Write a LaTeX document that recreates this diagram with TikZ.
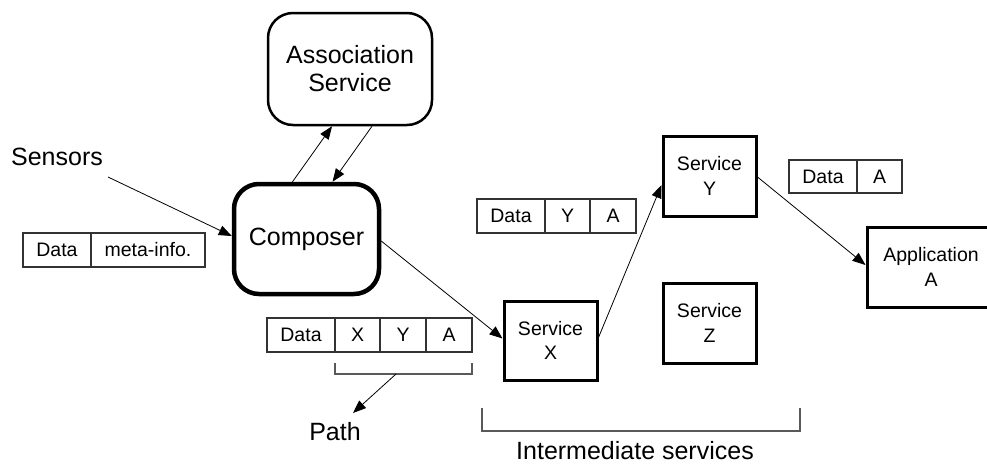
\documentclass[tikz,border=0pt]{standalone}
\usepackage{fontspec}
\setmainfont{Liberation Sans}
\usetikzlibrary{arrows.meta,calc}
\tikzset{
  big/.style={font=\fontsize{25}{28}\selectfont, align=center},
  small/.style={font=\fontsize{19.5}{24.5}\selectfont, align=center},
  roundbox/.style={draw, rounded corners=25pt, inner sep=0pt, big},
  svcbox/.style={draw, line width=3pt, inner sep=0pt, minimum width=93pt, minimum height=80pt, small},
  cell/.style={draw=black!80, line width=1.1pt, inner sep=0pt, small, anchor=center},
  conn/.style={draw, line width=0.8pt, -{Triangle[length=13pt,width=10pt]}},
  brack/.style={draw=black!65, line width=1.1pt},
}
\begin{document}
\begin{tikzpicture}[x=1pt,y=-1pt]
\useasboundingbox (0,0) rectangle (987,464);
\begin{scope}
\clip (0,0) rectangle (987,464);
% main boxes
\node[roundbox, line width=2.5pt, minimum width=164pt, minimum height=112pt] (assoc) at (350,69) {Association\\Service};
\node[roundbox, line width=4.5pt, minimum width=145pt, minimum height=110pt] (comp) at (306.5,239) {Composer};
\node[svcbox, minimum height=79pt] (svcX) at (550.5,340.5) {Service\\X};
\node[svcbox] (svcZ) at (709.5,323) {Service\\Z};
\node[svcbox] (svcY) at (709.5,176) {Service\\Y};
\node[svcbox, minimum width=128pt] (app) at (931,267) {Application\\A};
% labels
\node[big] (sensors) at (57,157) {Sensors};
\node[big] (path) at (335,432) {Path};
\node[big, inner sep=0pt, anchor=base] (inter) at (635,459.5) {Intermediate services};
% table 1
\node[cell, minimum width=68pt, minimum height=34pt] (t1a) at (57,250) {Data};
\node[cell, minimum width=114pt, minimum height=34pt] (t1b) at (148,250) {meta-info.};
% table 2
\node[cell, minimum width=68pt, minimum height=34pt] (t2a) at (301,335) {Data};
\node[cell, minimum width=45pt, minimum height=34pt] (t2b) at (357.5,335) {X};
\node[cell, minimum width=46pt, minimum height=34pt] (t2c) at (403,335) {Y};
\node[cell, minimum width=46pt, minimum height=34pt] (t2d) at (449,335) {A};
% table 3
\node[cell, minimum width=68pt, minimum height=34pt] (t3a) at (511,216) {Data};
\node[cell, minimum width=45pt, minimum height=34pt] (t3b) at (567.5,216) {Y};
\node[cell, minimum width=46pt, minimum height=34pt] (t3c) at (613,216) {A};
% table 4
\node[cell, minimum width=68pt, minimum height=33pt] (t4a) at (823,176.5) {Data};
\node[cell, minimum width=45pt, minimum height=33pt] (t4b) at (879.5,176.5) {A};
% brackets
\draw[brack] (335,363) -- (335,374) -- (472,374) -- (472,363);
\draw[brack] (482,408) -- (482,431) -- (800,431) -- (800,408);
\coordinate (sensfrom) at (108,177);
\coordinate (pathfrom) at (396,374);
\coordinate (pathtip) at (353,413);
% connectors
\draw[conn] (sensfrom) -- ([yshift=3pt]comp.west);
\draw[conn] ([xshift=-14pt]comp.north) -- ([xshift=-18pt]assoc.south);
\draw[conn] ([xshift=22pt]assoc.south) -- ([xshift=26pt]comp.north);
\draw[conn] ([yshift=-2pt]comp.east) -- ([yshift=2pt]svcX.west);
\draw[conn] ([yshift=3pt]svcX.east) -- ([yshift=-9pt]svcY.west);
\draw[conn] ([yshift=-1pt]svcY.east) -- ([yshift=2pt]app.west);
\draw[conn] (pathfrom) -- (pathtip);
\end{scope}
\end{tikzpicture}
\end{document}
